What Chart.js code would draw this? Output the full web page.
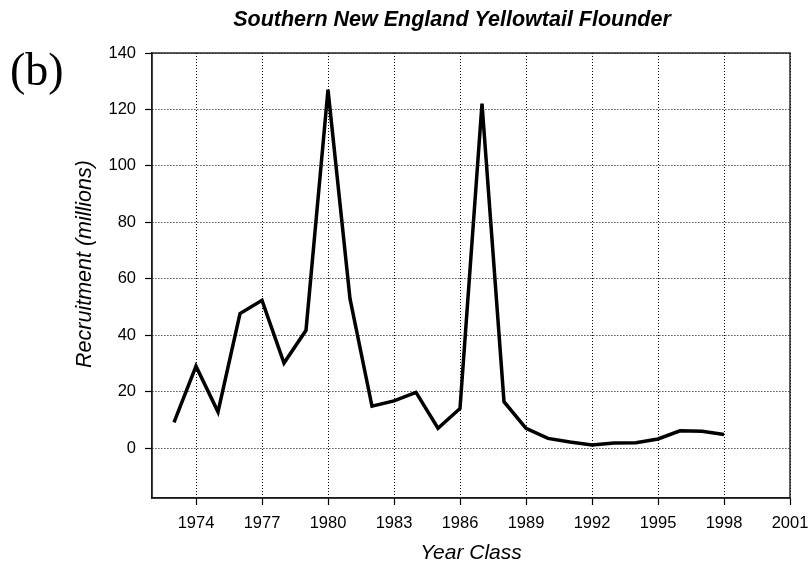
<!DOCTYPE html>
<html>
<head>
<meta charset="utf-8">
<style>
  html, body { margin: 0; padding: 0; background: #ffffff; }
  #wrap { width: 810px; height: 564px; }
</style>
<script src="https://cdn.jsdelivr.net/npm/chart.js@4.4.0/dist/chart.umd.min.js"></script>
</head>
<body>
<div id="wrap"><canvas id="chart" width="810" height="564"></canvas></div>
<script>
// Year classes and recruitment estimates (millions of fish)
const yearClasses = [1973, 1974, 1975, 1976, 1977, 1978, 1979, 1980, 1981, 1982,
                     1983, 1984, 1985, 1986, 1987, 1988, 1989, 1990, 1991, 1992,
                     1993, 1994, 1995, 1996, 1997, 1998];
const recruitment = [9.2, 29.1, 12.9, 47.7, 52.4, 30.2, 41.8, 127.0, 53.0, 14.9,
                     16.8, 19.8, 7.1, 14.1, 122.1, 16.5, 7.1, 3.5, 2.2, 1.2,
                     1.9, 2.0, 3.3, 6.2, 6.0, 4.9];

// Axis tick values
const yearTicks = [1974, 1977, 1980, 1983, 1986, 1989, 1992, 1995, 1998, 2001];
const recruitTicks = [0, 20, 40, 60, 80, 100, 120, 140];

const FONT = "'Liberation Sans', Arial, Helvetica, sans-serif";
Chart.defaults.font.family = FONT;
Chart.defaults.color = '#000000';

// Titles, panel letter and the box around the plot
const decorations = {
  id: 'decorations',
  afterDraw(chart) {
    const { ctx, chartArea: a } = chart;
    ctx.save();

    // frame
    ctx.strokeStyle = '#1a1a1a';
    ctx.lineWidth = 1.4;
    ctx.setLineDash([]);
    ctx.strokeRect(a.left, a.top, a.right - a.left, a.bottom - a.top);

    ctx.fillStyle = '#000000';

    // chart title
    ctx.font = "italic bold 21.5px " + FONT;
    ctx.textAlign = 'center';
    ctx.textBaseline = 'middle';
    ctx.fillText('Southern New England Yellowtail Flounder', 452, 20);

    // panel letter
    ctx.font = "46px 'Liberation Serif', 'Times New Roman', serif";
    ctx.textAlign = 'left';
    ctx.textBaseline = 'alphabetic';
    ctx.fillText('(b)', 10, 85);

    // x axis title
    ctx.font = "italic 21px " + FONT;
    ctx.textAlign = 'center';
    ctx.textBaseline = 'alphabetic';
    ctx.fillText('Year Class', (a.left + a.right) / 2, 559);

    // y axis title
    ctx.font = "italic 21.5px " + FONT;
    ctx.translate(85, 264);
    ctx.rotate(-Math.PI / 2);
    ctx.textBaseline = 'middle';
    ctx.fillText('Recruitment (millions)', 0, 0);

    ctx.restore();
  }
};

new Chart(document.getElementById('chart'), {
  type: 'line',
  data: {
    datasets: [{
      data: yearClasses.map((yr, i) => ({ x: yr, y: recruitment[i] })),
      borderColor: '#000000',
      borderWidth: 3.5,
      borderJoinStyle: 'miter',
      borderCapStyle: 'butt',
      pointRadius: 0,
      tension: 0,
      fill: false
    }]
  },
  options: {
    responsive: false,
    animation: false,
    devicePixelRatio: 1,
    layout: { padding: { top: 53, right: 20, left: 0, bottom: 0 } },
    plugins: {
      legend: { display: false },
      title: { display: false },
      tooltip: { enabled: false }
    },
    scales: {
      x: {
        type: 'linear',
        min: 1972,
        max: 2001,
        afterBuildTicks: (scale) => { scale.ticks = yearTicks.map(v => ({ value: v })); },
        afterFit: (scale) => {
          scale.height = 66;
          scale.paddingLeft = 0;
          scale.paddingRight = 0;
        },
        ticks: {
          callback: (v) => String(v),
          font: { size: 16.5 },
          color: '#000000',
          padding: 9,
          maxRotation: 0,
          autoSkip: false
        },
        grid: {
          color: '#000000',
          lineWidth: 1,
          drawTicks: true,
          tickLength: 7,
          tickColor: '#000000',
          tickWidth: 1.2
        },
        border: { display: true, color: '#1a1a1a', width: 1.4, dash: [1, 2] }
      },
      y: {
        type: 'linear',
        min: -17.6,
        max: 140,
        afterBuildTicks: (scale) => { scale.ticks = recruitTicks.map(v => ({ value: v })); },
        afterFit: (scale) => {
          scale.width = 152;
          scale.paddingTop = 0;
          scale.paddingBottom = 0;
        },
        ticks: {
          callback: (v) => String(v),
          font: { size: 16.5 },
          color: '#000000',
          padding: 9
        },
        grid: {
          color: '#000000',
          lineWidth: 1,
          drawTicks: true,
          tickLength: 7,
          tickColor: '#000000',
          tickWidth: 1.2
        },
        border: { display: true, color: '#1a1a1a', width: 1.4, dash: [1, 2] }
      }
    }
  },
  plugins: [decorations]
});
</script>
</body>
</html>
